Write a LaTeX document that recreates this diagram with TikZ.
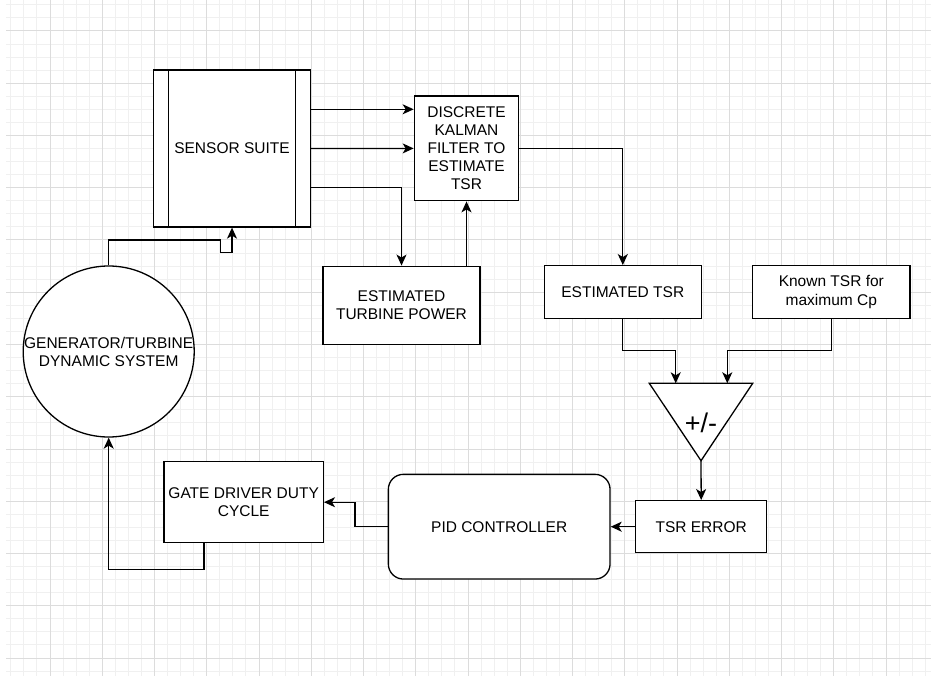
\documentclass[tikz,border=0pt]{standalone}
\usepackage{fontspec}
\setmainfont{Liberation Sans}
\usetikzlibrary{arrows.meta,calc}
\definecolor{gridminor}{HTML}{F0F0F0}
\definecolor{gridmajor}{HTML}{DCDCDC}
\begin{document}
\begin{tikzpicture}[x=1pt,y=-1pt,
  box/.style={draw=black, line width=1.3pt, fill=white, align=center, inner sep=2pt,
    font=\fontsize{15.5}{18}\selectfont, text=black},
  txt/.style={align=center, inner sep=0pt, font=\fontsize{15.5}{18}\selectfont, text=black},
  conn/.style={draw=black, line width=1.3pt},
  arr/.style={conn, -{Stealth[length=11pt,width=10pt,inset=3pt]}},
  minorline/.style={draw=gridminor, line width=1pt},
  majorline/.style={draw=gridmajor, line width=1pt}]
\useasboundingbox (0,0) rectangle (931,676);
\fill[white] (0,0) rectangle (931,676);
% grid
\foreach \i in {-3,...,67} { \draw[minorline] ({50+13.0625*\i},0) -- ({50+13.0625*\i},676); }
\foreach \j in {-2,...,49} { \draw[minorline] (6,{31+13.0625*\j}) -- (931,{31+13.0625*\j}); }
\foreach \i in {0,...,16} { \draw[majorline] ({50+52.25*\i},0) -- ({50+52.25*\i},676); }
\foreach \j in {0,...,12} { \draw[majorline] (6,{31+52.25*\j}) -- (931,{31+52.25*\j}); }

% nodes
\node[box, minimum width=156.6pt, minimum height=157pt] (ss) at (232,148.5) {SENSOR SUITE};
\draw[conn] ([xshift=15.6pt]ss.north west) -- ([xshift=15.6pt]ss.south west);
\draw[conn] ([xshift=-15.6pt]ss.north east) -- ([xshift=-15.6pt]ss.south east);

\node[box, minimum width=104.4pt, minimum height=104.7pt] (kf) at (466.5,148.4)
  {DISCRETE\\KALMAN\\FILTER TO\\ESTIMATE\\TSR};
\node[box, minimum width=157pt, minimum height=78.6pt] (etp) at (401.5,305.5)
  {ESTIMATED\\TURBINE POWER};
\node[box, minimum width=157pt, minimum height=52.6pt] (ets) at (622.8,292) {ESTIMATED TSR};
\node[box, minimum width=157.3pt, minimum height=52.6pt] (kt) at (831.3,292)
  {Known TSR for\\maximum Cp};
\node[box, minimum width=131pt, minimum height=52pt] (terr) at (701.2,526.7) {TSR ERROR};
\node[box, rounded corners=15pt, minimum width=221.7pt, minimum height=104.7pt] (pid)
  at (499.2,526.7) {PID CONTROLLER};
\node[box, minimum width=159.3pt, minimum height=81pt] (gd) at (243.7,502.2)
  {GATE DRIVER DUTY\\CYCLE};
\node[draw=black, line width=1.3pt, fill=white, circle, minimum size=171pt, inner sep=0pt]
  (gen) at (108.7,351.5) {};
\node[txt] (gentxt) at (gen.center) {GENERATOR/TURBINE\\DYNAMIC SYSTEM};

% triangle comparator
\coordinate (tl) at (649.3,383.3);
\coordinate (tr) at (752.7,383.3);
\coordinate (apex) at (701,460.7);
\coordinate (inA) at (675.7,383.3);
\coordinate (inB) at (727.3,383.3);
\draw[conn, fill=white] (tl) -- (tr) -- (apex) -- cycle;
\node[txt, font=\fontsize{27}{30}\selectfont] (pm) at (701,423) {+/-};

% connectors
\coordinate (s1) at ([yshift=39.2pt]ss.east);
\coordinate (s3) at ([yshift=-39.2pt]ss.east);
\draw[arr] (s1) -- (s1 -| kf.west);
\draw[arr] (ss.east) -- (kf.west);
\draw[arr] (s3) -| (etp.north);
\draw[arr] (etp.north -| kf.south) -- (kf.south);
\draw[arr] (kf.east) -| (ets.north);
\draw[arr] (ets.south) -- ++(0,31.7) -| (inA);
\draw[arr] (kt.south) -- ++(0,31.7) -| (inB);
\draw[arr] (apex) -- (terr.north);
\draw[arr] (terr.west) -- (pid.east);
\draw[arr] (pid.west) -- ++(-32.6,0) |- (gd.east);
\coordinate (g1) at ([xshift=-39.7pt]gd.south);
\draw[arr] (g1) -- ++(0,26.3) -| (gen.south);
\draw[arr] (gen.north) |- (220.7,240) -- (220.7,252.7) -| (ss.south);
\end{tikzpicture}
\end{document}
